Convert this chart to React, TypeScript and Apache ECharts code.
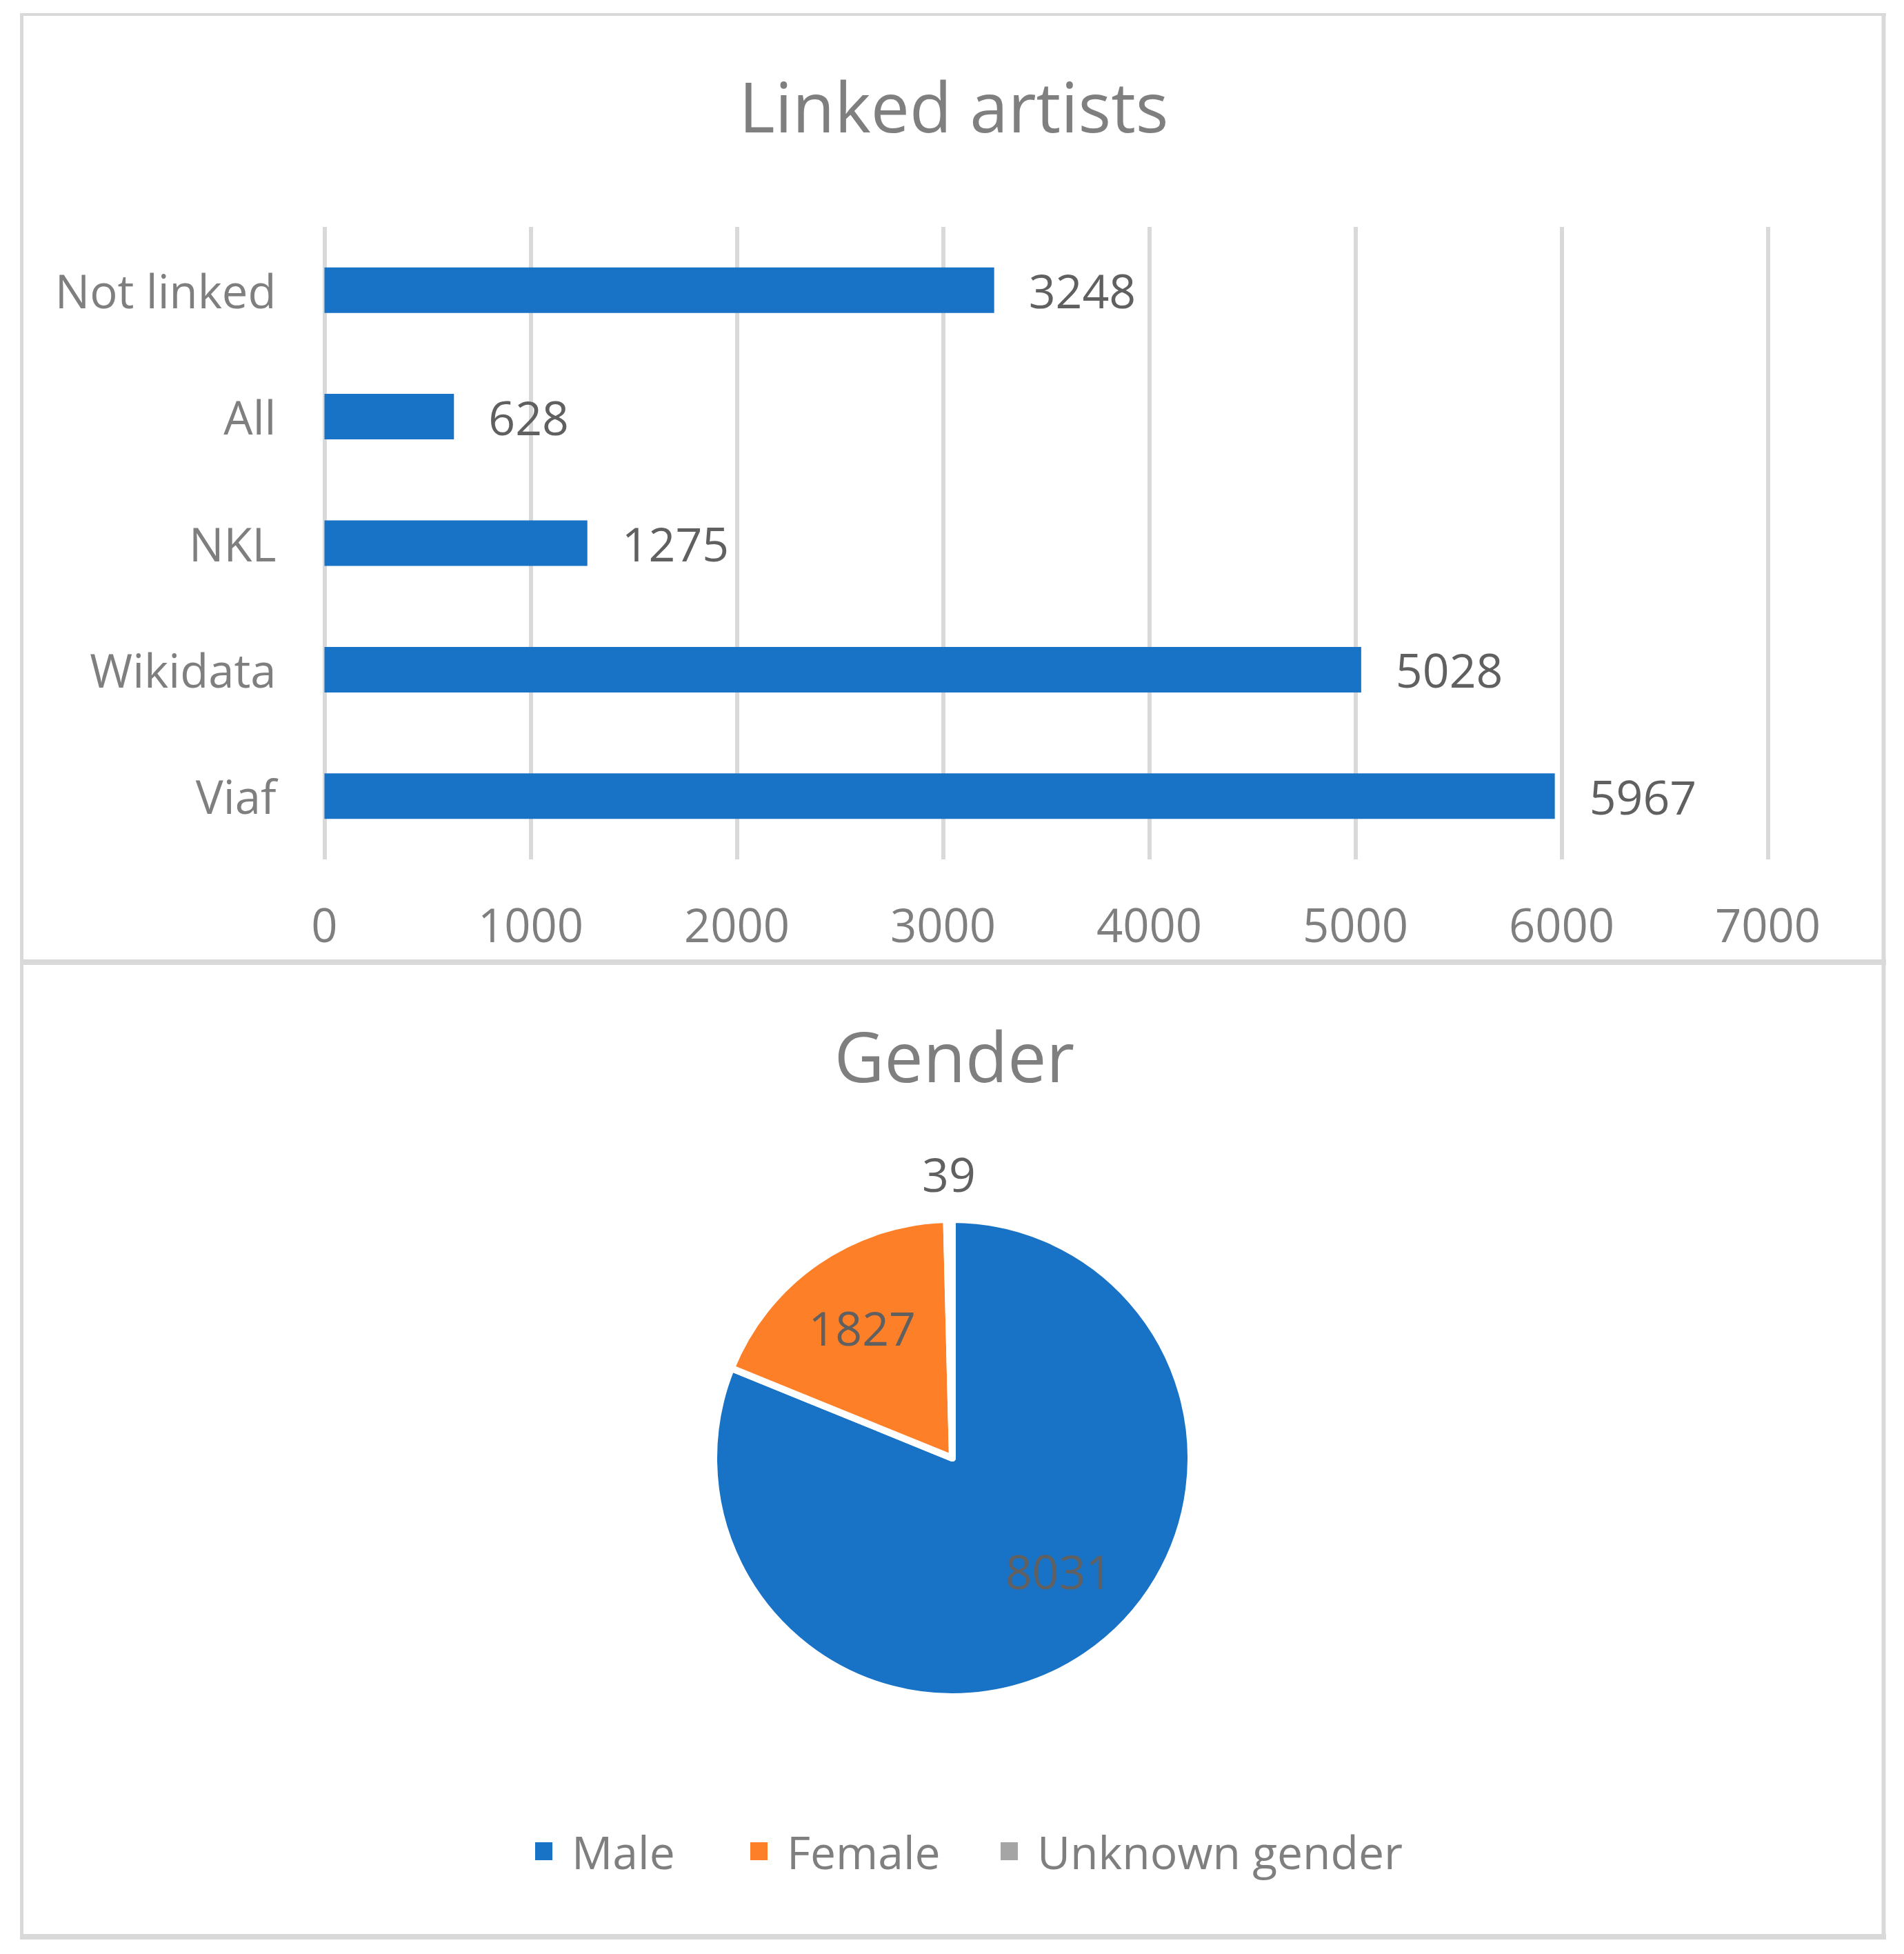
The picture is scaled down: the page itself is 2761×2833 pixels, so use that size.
import React, { useEffect, useRef } from 'react';
import * as echarts from 'echarts';

const barTitle = 'Linked artists';
const barCategories = ['Viaf', 'Wikidata', 'NKL', 'All', 'Not linked'];
const barValues = [5967, 5028, 1275, 628, 3248];
const xMin = 0;
const xMax = 7000;
const xInterval = 1000;

const pieTitle = 'Gender';
const genderNames = ['Male', 'Female', 'Unknown gender'];
const genderValues = [8031, 1827, 39];
const genderColors = ['#1872C6', '#FD7F28', '#A5A5A5'];

const FONT = "'Open Sans', 'Noto Sans', sans-serif";
const AXIS_GRAY = '#7f7f7f';
const LABEL_GRAY = '#606060';
const BORDER = '#d9d9d9';

export default function App() {
  const ref = useRef<HTMLDivElement>(null);

  useEffect(() => {
    if (!ref.current) return;
    const chart = echarts.init(ref.current, undefined, { renderer: 'svg' });

    const pieCenter = [1381, 2114];
    const pieR = 346;
    const legendLefts = [774, 1086, 1449];

    const option: any = {
      animation: false,
      backgroundColor: '#ffffff',
      textStyle: { fontFamily: FONT },
      title: [
        {
          text: barTitle,
          left: 1383,
          top: 103,
          textAlign: 'center',
          padding: 0,
          textStyle: { fontSize: 100, fontWeight: 'normal', color: AXIS_GRAY, fontFamily: FONT },
        },
        {
          text: pieTitle,
          left: 1384,
          top: 1480,
          textAlign: 'center',
          padding: 0,
          textStyle: { fontSize: 100, fontWeight: 'normal', color: AXIS_GRAY, fontFamily: FONT },
        },
      ],
      grid: { left: 470.5, top: 329, width: 2093, height: 917, containLabel: false },
      xAxis: {
        type: 'value',
        min: xMin,
        max: xMax,
        interval: xInterval,
        axisLine: { show: false },
        axisTick: { show: false },
        axisLabel: {
          fontSize: 67,
          color: AXIS_GRAY,
          margin: 60,
          fontFamily: FONT,
          formatter: (v: number) => String(v),
        },
        splitLine: { show: true, showMinLine: true, showMaxLine: true, lineStyle: { color: BORDER, width: 6 } },
      },
      yAxis: {
        type: 'category',
        data: barCategories,
        axisLine: { show: false },
        axisTick: { show: false },
        axisLabel: { fontSize: 67, color: AXIS_GRAY, margin: 70, fontFamily: FONT },
        splitLine: { show: false },
      },
      legend: genderNames.map((n, i) => ({
        data: [n],
        left: legendLefts[i],
        top: 2651,
        padding: 0,
        itemWidth: 27,
        itemHeight: 28,
        icon: 'rect',
        selectedMode: false,
        textStyle: { fontSize: 66, color: AXIS_GRAY, fontFamily: FONT, padding: [0, 0, 0, 22] },
      })),
      series: [
        {
          type: 'bar',
          data: barValues,
          barWidth: 66,
          itemStyle: { color: genderColors[0] },
          label: {
            show: true,
            position: 'right',
            distance: 50,
            fontSize: 68,
            color: LABEL_GRAY,
            fontFamily: FONT,
          },
          emphasis: { disabled: true },
        },
        {
          type: 'pie',
          center: pieCenter,
          radius: [0, pieR],
          startAngle: 90,
          clockwise: true,
          avoidLabelOverlap: false,
          itemStyle: { borderColor: '#ffffff', borderWidth: 10 },
          label: { show: false },
          labelLine: { show: false },
          emphasis: { disabled: true },
          data: genderNames.map((n, i) => ({ name: n, value: genderValues[i], itemStyle: { color: genderColors[i] } })),
        },
        {
          type: 'pie',
          silent: true,
          legendHoverLink: false,
          center: pieCenter,
          radius: [108, pieR],
          startAngle: 90,
          clockwise: true,
          avoidLabelOverlap: false,
          itemStyle: { color: 'rgba(0,0,0,0)', borderWidth: 0 },
          label: {
            show: true,
            position: 'inside',
            formatter: '{c}',
            fontSize: 68,
            color: LABEL_GRAY,
            fontFamily: FONT,
            textBorderWidth: 0,
            textBorderColor: 'transparent',
          },
          labelLayout: (p: any) => (p.dataIndex === 0 ? { dx: 26, dy: -27 } : {}),
          labelLine: { show: false },
          emphasis: { disabled: true },
          data: genderNames.map((n, i) => ({
            name: n,
            value: genderValues[i],
            label: { show: i < 2 },
          })),
        },
        {
          type: 'pie',
          silent: true,
          legendHoverLink: false,
          center: pieCenter,
          radius: [380, 439],
          startAngle: 90,
          clockwise: true,
          avoidLabelOverlap: false,
          itemStyle: { color: 'rgba(0,0,0,0)', borderWidth: 0 },
          label: {
            show: true,
            position: 'inside',
            formatter: '{c}',
            fontSize: 68,
            color: LABEL_GRAY,
            fontFamily: FONT,
            textBorderWidth: 0,
            textBorderColor: 'transparent',
          },
          labelLine: { show: false },
          emphasis: { disabled: true },
          data: genderNames.map((n, i) => ({
            name: n,
            value: genderValues[i],
            label: { show: i === 2 },
          })),
        },
      ],
      graphic: [
        { type: 'line', shape: { x1: 29, y1: 21, x2: 2735, y2: 21 }, style: { stroke: BORDER, lineWidth: 4 } },
        { type: 'line', shape: { x1: 31.5, y1: 19, x2: 31.5, y2: 2812 }, style: { stroke: BORDER, lineWidth: 5 } },
        { type: 'line', shape: { x1: 2731.5, y1: 19, x2: 2731.5, y2: 2812 }, style: { stroke: BORDER, lineWidth: 6 } },
        { type: 'line', shape: { x1: 29, y1: 1395, x2: 2735, y2: 1395 }, style: { stroke: BORDER, lineWidth: 8 } },
        { type: 'line', shape: { x1: 29, y1: 2808, x2: 2735, y2: 2808 }, style: { stroke: BORDER, lineWidth: 8 } },
      ],
    };

    chart.setOption(option);
    return () => chart.dispose();
  }, []);

  return (
    <div
      ref={ref}
      style={{ position: 'absolute', left: 0, top: 0, width: 2761, height: 2833, background: '#ffffff' }}
    />
  );
}
